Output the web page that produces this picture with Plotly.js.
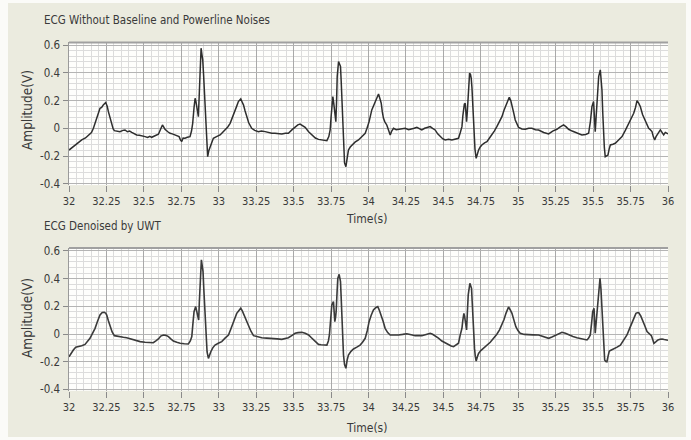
<!DOCTYPE html>
<html><head><meta charset="utf-8">
<script src="https://cdn.plot.ly/plotly-3.0.1.min.js"></script>
<style>html,body{margin:0;padding:0;background:#fff;overflow:hidden}</style>
</head><body><div id="c" style="width:691px;height:440px"></div>
<script>
const titleTop = 'ECG Without Baseline and Powerline Noises';
const titleBottom = 'ECG Denoised by UWT';
const xTitle = 'Time(s)';
const yTitle = 'Amplitude(V)';

const xTickVals = [32,32.25,32.5,32.75,33,33.25,33.5,33.75,34,34.25,34.5,34.75,35,35.25,35.5,35.75,36];
const xTickText = ['32','32.25','32.5','32.75','33','33.25','33.5','33.75','34','34.25','34.5','34.75','35','35.25','35.5','35.75','36'];
const yTickVals = [-0.4,-0.2,0,0.2,0.4,0.6];
const yTickText = ['-0.4','-0.2','0','0.2','0.4','0.6'];

const timeTop = [32.000,32.02,32.04,32.06,32.085,32.11,32.13,32.15,32.163,32.175,32.185,32.195,32.207,32.218,32.229,32.245,32.255,32.263,32.275,32.285,32.295,32.303,32.32,32.34,32.36,32.374,32.39,32.405,32.419,32.435,32.452,32.47,32.49,32.508,32.525,32.54,32.552,32.575,32.597,32.61,32.624,32.632,32.641,32.66,32.675,32.69,32.708,32.72,32.735,32.745,32.753,32.762,32.775,32.79,32.808,32.818,32.826,32.835,32.842,32.848,32.853,32.858,32.864,32.871,32.877,32.882,32.888,32.893,32.899,32.904,32.909,32.913,32.92,32.926,32.934,32.942,32.953,32.964,32.985,33.009,33.025,33.042,33.06,33.076,33.093,33.109,33.12,33.131,33.14,33.147,33.156,33.165,33.176,33.187,33.2,33.22,33.24,33.265,33.285,33.31,33.33,33.354,33.375,33.4,33.421,33.445,33.465,33.49,33.51,33.528,33.543,33.56,33.577,33.6,33.621,33.645,33.666,33.695,33.722,33.735,33.744,33.75,33.755,33.762,33.768,33.773,33.782,33.787,33.791,33.8,33.806,33.813,33.818,33.822,33.827,33.833,33.84,33.849,33.857,33.866,33.878,33.889,33.91,33.933,33.955,33.978,33.99,34.004,34.022,34.035,34.045,34.055,34.067,34.076,34.085,34.092,34.1,34.11,34.122,34.133,34.145,34.155,34.167,34.185,34.2,34.222,34.245,34.268,34.29,34.305,34.323,34.34,34.356,34.375,34.395,34.412,34.428,34.445,34.462,34.479,34.495,34.512,34.535,34.557,34.58,34.601,34.613,34.624,34.63,34.635,34.64,34.646,34.651,34.655,34.66,34.664,34.67,34.675,34.681,34.686,34.691,34.695,34.7,34.704,34.711,34.719,34.727,34.735,34.746,34.757,34.775,34.791,34.808,34.824,34.84,34.857,34.875,34.891,34.905,34.918,34.93,34.94,34.95,34.958,34.97,34.98,34.99,35.002,35.025,35.047,35.07,35.091,35.115,35.136,35.17,35.203,35.23,35.258,35.28,35.303,35.32,35.336,35.36,35.381,35.405,35.425,35.45,35.47,35.482,35.492,35.503,35.508,35.514,35.52,35.526,35.532,35.537,35.548,35.554,35.559,35.564,35.568,35.575,35.581,35.59,35.599,35.607,35.615,35.632,35.648,35.67,35.693,35.715,35.737,35.755,35.771,35.783,35.793,35.805,35.815,35.83,35.849,35.86,35.871,35.882,35.893,35.902,35.911,35.92,35.927,35.938,35.949,35.96,35.971,35.982,35.993,36];
const ampTop = [-0.157,-0.14,-0.12,-0.105,-0.084,-0.07,-0.048,-0.03,0,0.04,0.084,0.11,0.145,0.15,0.169,0.186,0.16,0.12,0.07,0.024,-0.005,-0.017,-0.02,-0.024,-0.015,-0.012,-0.025,-0.02,-0.029,-0.04,-0.048,-0.05,-0.058,-0.06,-0.066,-0.058,-0.065,-0.052,-0.043,-0.01,0.024,0.01,-0.007,-0.025,-0.036,-0.04,-0.048,-0.05,-0.06,-0.085,-0.096,-0.07,-0.072,-0.065,-0.06,-0.02,0.036,0.15,0.217,0.19,0.157,0.12,0.084,0.277,0.45,0.578,0.53,0.494,0.38,0.277,0.13,-0.012,-0.13,-0.205,-0.16,-0.133,-0.1,-0.072,-0.06,-0.048,-0.03,-0.012,0.01,0.036,0.08,0.12,0.16,0.193,0.205,0.212,0.19,0.169,0.125,0.084,0.04,0,-0.015,-0.024,-0.02,-0.024,-0.03,-0.036,-0.035,-0.04,-0.041,-0.035,-0.036,-0.01,0.012,0.025,0.031,0.02,0.007,-0.025,-0.048,-0.07,-0.08,-0.085,-0.089,-0.06,-0.012,0.08,0.157,0.229,0.18,0.133,0.048,0.2,0.373,0.482,0.47,0.446,0.33,0.205,0.03,-0.157,-0.25,-0.277,-0.2,-0.157,-0.135,-0.12,-0.1,-0.084,-0.06,-0.036,0.0,0.048,0.133,0.17,0.193,0.215,0.248,0.215,0.181,0.12,0.072,0.045,0.024,-0.01,-0.048,-0.02,0,-0.01,-0.007,-0.005,0,-0.01,-0.007,0.0,0.007,-0.005,-0.012,0.0,0.005,0.012,0.0,-0.012,-0.04,-0.06,-0.075,-0.084,-0.08,-0.084,-0.075,-0.072,-0.03,0.012,0.09,0.157,0.175,0.181,0.1,0.048,0.12,0.205,0.33,0.398,0.39,0.361,0.29,0.205,0.06,-0.06,-0.15,-0.217,-0.18,-0.157,-0.135,-0.12,-0.105,-0.096,-0.07,-0.048,-0.02,0.012,0.05,0.084,0.13,0.169,0.2,0.224,0.2,0.169,0.11,0.06,0.03,0.007,-0.005,-0.007,0.0,0,-0.01,-0.012,-0.03,-0.041,-0.02,-0.007,0.01,0.024,0.01,-0.007,-0.02,-0.031,-0.04,-0.048,-0.045,-0.036,0.05,0.157,0.193,0.08,-0.024,0.08,0.181,0.28,0.373,0.422,0.36,0.277,0.12,-0.036,-0.14,-0.205,-0.2,-0.193,-0.15,-0.12,-0.115,-0.108,-0.085,-0.06,-0.015,0.036,0.07,0.108,0.15,0.2,0.18,0.157,0.1,0.048,0.02,0,-0.01,-0.024,-0.06,-0.084,-0.06,-0.048,-0.03,-0.012,-0.03,-0.048,-0.03,-0.036,-0.04];

const timeBottom = [32.000,32.015,32.029,32.045,32.062,32.085,32.107,32.125,32.14,32.157,32.174,32.19,32.207,32.222,32.236,32.245,32.252,32.263,32.274,32.288,32.303,32.322,32.341,32.363,32.385,32.41,32.441,32.475,32.508,32.535,32.563,32.58,32.597,32.613,32.63,32.647,32.664,32.68,32.697,32.72,32.742,32.77,32.797,32.81,32.82,32.828,32.835,32.846,32.852,32.858,32.866,32.87,32.875,32.884,32.89,32.895,32.9,32.906,32.91,32.915,32.922,32.931,32.939,32.947,32.96,32.975,33.0,33.02,33.042,33.065,33.082,33.098,33.11,33.12,33.135,33.147,33.158,33.169,33.184,33.198,33.215,33.232,33.26,33.287,33.32,33.354,33.39,33.421,33.445,33.465,33.49,33.51,33.53,33.555,33.577,33.6,33.617,33.633,33.65,33.666,33.683,33.7,33.722,33.732,33.739,33.747,33.755,33.766,33.77,33.775,33.78,33.784,33.79,33.795,33.804,33.813,33.818,33.822,33.828,33.833,33.84,33.849,33.857,33.866,33.883,33.9,33.922,33.944,33.96,33.978,33.992,34.004,34.018,34.033,34.048,34.062,34.073,34.085,34.098,34.111,34.128,34.145,34.172,34.2,34.228,34.256,34.285,34.312,34.335,34.356,34.385,34.412,34.428,34.445,34.467,34.49,34.512,34.535,34.552,34.568,34.585,34.601,34.612,34.624,34.63,34.637,34.642,34.646,34.651,34.655,34.66,34.666,34.677,34.683,34.688,34.693,34.697,34.703,34.708,34.713,34.719,34.727,34.735,34.75,34.768,34.79,34.813,34.835,34.857,34.875,34.891,34.905,34.918,34.927,34.935,34.946,34.958,34.971,34.984,34.998,35.013,35.04,35.069,35.1,35.136,35.17,35.203,35.225,35.247,35.27,35.292,35.315,35.336,35.365,35.392,35.41,35.425,35.44,35.459,35.47,35.481,35.49,35.497,35.506,35.51,35.514,35.52,35.526,35.532,35.537,35.546,35.552,35.557,35.562,35.566,35.572,35.577,35.585,35.592,35.6,35.608,35.622,35.637,35.66,35.682,35.705,35.726,35.742,35.759,35.772,35.786,35.795,35.804,35.818,35.831,35.845,35.86,35.875,35.889,35.898,35.906,35.92,35.933,35.947,35.96,35.975,35.993,36];
const ampBottom = [-0.164,-0.135,-0.116,-0.095,-0.092,-0.085,-0.075,-0.055,-0.031,0.005,0.041,0.09,0.137,0.155,0.157,0.15,0.137,0.095,0.053,0.015,-0.012,-0.017,-0.019,-0.024,-0.027,-0.035,-0.043,-0.055,-0.06,-0.062,-0.063,-0.05,-0.036,-0.015,-0.007,-0.01,-0.019,-0.035,-0.051,-0.06,-0.067,-0.07,-0.072,-0.05,-0.019,0.08,0.161,0.198,0.16,0.125,0.101,0.22,0.354,0.535,0.49,0.45,0.33,0.21,0.08,-0.055,-0.13,-0.176,-0.145,-0.128,-0.1,-0.08,-0.065,-0.055,-0.03,-0.007,0.04,0.089,0.12,0.149,0.17,0.186,0.165,0.137,0.095,0.053,0.02,-0.012,-0.022,-0.027,-0.03,-0.031,-0.035,-0.039,-0.033,-0.027,-0.01,0.005,0.01,0.012,0.005,-0.007,-0.025,-0.043,-0.06,-0.075,-0.078,-0.08,-0.08,-0.05,-0.007,0.1,0.21,0.234,0.16,0.089,0.12,0.161,0.3,0.402,0.431,0.378,0.25,0.113,-0.02,-0.152,-0.22,-0.248,-0.19,-0.152,-0.125,-0.108,-0.095,-0.08,-0.06,-0.031,0.025,0.089,0.135,0.173,0.19,0.198,0.17,0.137,0.09,0.041,0.01,-0.007,-0.008,-0.007,-0.003,0.002,-0.005,-0.012,-0.012,-0.012,-0.003,0.005,-0.002,-0.012,-0.03,-0.051,-0.065,-0.08,-0.087,-0.092,-0.08,-0.067,-0.01,0.041,0.1,0.149,0.125,0.101,0.06,0.029,0.15,0.282,0.366,0.35,0.33,0.22,0.113,0.0,-0.104,-0.16,-0.195,-0.165,-0.14,-0.12,-0.104,-0.08,-0.06,-0.03,-0.002,0.03,0.065,0.105,0.149,0.175,0.195,0.175,0.149,0.1,0.053,0.025,0.005,-0.003,-0.007,-0.006,-0.007,-0.02,-0.031,-0.022,-0.012,0.0,0.012,0.005,-0.007,-0.018,-0.027,-0.032,-0.036,-0.04,-0.043,-0.03,-0.007,0.08,0.161,0.186,0.1,0.005,0.08,0.161,0.25,0.33,0.402,0.33,0.234,0.11,-0.007,-0.11,-0.188,-0.198,-0.2,-0.16,-0.123,-0.115,-0.108,-0.095,-0.08,-0.045,-0.007,0.035,0.077,0.11,0.149,0.153,0.154,0.13,0.101,0.06,0.017,0.0,-0.012,-0.04,-0.067,-0.055,-0.043,-0.038,-0.036,-0.04,-0.043,-0.045];

const W = 691, H = 440;
const px = v => v / W;
const py = v => 1 - v / H;
const FONT = '"DejaVu Sans Condensed", "Liberation Sans", sans-serif';
const TXT = '#3a3a3a';

function xAxis(dom, anchor) {
  return {
    domain: dom, anchor: anchor, range: [32, 36],
    tickmode: 'array', tickvals: xTickVals, ticktext: xTickText,
    ticks: 'outside', ticklen: 6, tickwidth: 1, tickcolor: '#8a8a8a',
    tickfont: {family: FONT, size: 11, color: TXT},
    showgrid: true, gridcolor: '#a9a9a9', gridwidth: 1,
    minor: {dtick: 0.05, tick0: 32, showgrid: true, gridcolor: '#dcdcdc', gridwidth: 1, ticks: ''},
    zeroline: false, showline: false, fixedrange: true
  };
}
function yAxis(dom, anchor) {
  return {
    domain: dom, anchor: anchor, range: [-0.41, 0.62],
    tickmode: 'array', tickvals: yTickVals, ticktext: yTickText,
    ticks: 'outside', ticklen: 5, tickwidth: 1, tickcolor: '#8a8a8a',
    tickfont: {family: FONT, size: 11.5, color: TXT},
    showgrid: true, gridcolor: '#b4b4b4', gridwidth: 1,
    minor: {dtick: 0.04, tick0: 0, showgrid: true, gridcolor: '#dcdcdc', gridwidth: 1, ticks: ''},
    zeroline: false, showline: true, linecolor: '#9a9a9a', linewidth: 1.5, fixedrange: true
  };
}

const topY = [py(185.1), py(42.4)];
const botY = [py(390.8), py(248.1)];
const xDom = [px(69), px(668)];

const traces = [
  {x: timeTop, y: ampTop, xaxis: 'x', yaxis: 'y', type: 'scatter', mode: 'lines',
   line: {color: '#2e2e2e', width: 1.5}, hoverinfo: 'skip'},
  {x: timeBottom, y: ampBottom, xaxis: 'x2', yaxis: 'y2', type: 'scatter', mode: 'lines',
   line: {color: '#3a3a3a', width: 1.6}, hoverinfo: 'skip'}
];

const ann = (text, x, y, size, opts) => Object.assign({
  text: text, xref: 'paper', yref: 'paper', x: px(x), y: py(y), showarrow: false,
  font: {family: FONT, size: size, color: TXT}, xanchor: 'left', yanchor: 'middle'
}, opts || {});

const layout = {
  width: W, height: H, margin: {l: 0, r: 0, t: 0, b: 0},
  paper_bgcolor: '#ebebdf', plot_bgcolor: '#fefefc', showlegend: false,
  xaxis: xAxis(xDom, 'y'), yaxis: yAxis(topY, 'x'),
  xaxis2: xAxis(xDom, 'y2'), yaxis2: yAxis(botY, 'x2'),
  annotations: [
    ann(titleTop, 42, 20, 11.5),
    ann(titleBottom, 42, 226, 11.5),
    ann(xTitle, 367, 219, 12, {xanchor: 'center'}),
    ann(xTitle, 367, 428, 12, {xanchor: 'center'}),
    ann(yTitle, 27, 110, 13.5, {xanchor: 'center', textangle: -90}),
    ann(yTitle, 27, 318, 13.5, {xanchor: 'center', textangle: -90})
  ],
  shapes: [
    {type: 'rect', xref: 'paper', yref: 'paper', x0: 0, x1: px(8), y0: 0, y1: 1, fillcolor: '#fbfbf8', line: {width: 0}},
    {type: 'rect', xref: 'paper', yref: 'paper', x0: px(686), x1: 1, y0: 0, y1: 1, fillcolor: '#fbfbf8', line: {width: 0}},
    {type: 'rect', xref: 'paper', yref: 'paper', x0: 0, x1: 1, y0: py(3), y1: 1, fillcolor: '#fbfbf8', line: {width: 0}},
    {type: 'rect', xref: 'paper', yref: 'paper', x0: 0, x1: 1, y0: 0, y1: py(437), fillcolor: '#fbfbf8', line: {width: 0}},
    {type: 'line', xref: 'paper', yref: 'paper', x0: xDom[0], x1: xDom[1], y0: topY[1], y1: topY[1], line: {color: '#a0a0a0', width: 2}},
    {type: 'line', xref: 'paper', yref: 'paper', x0: xDom[0], x1: xDom[1], y0: botY[1], y1: botY[1], line: {color: '#a0a0a0', width: 2}}
  ]
};

Plotly.newPlot('c', traces, layout, {staticPlot: true, displayModeBar: false});
</script>
</body></html>
